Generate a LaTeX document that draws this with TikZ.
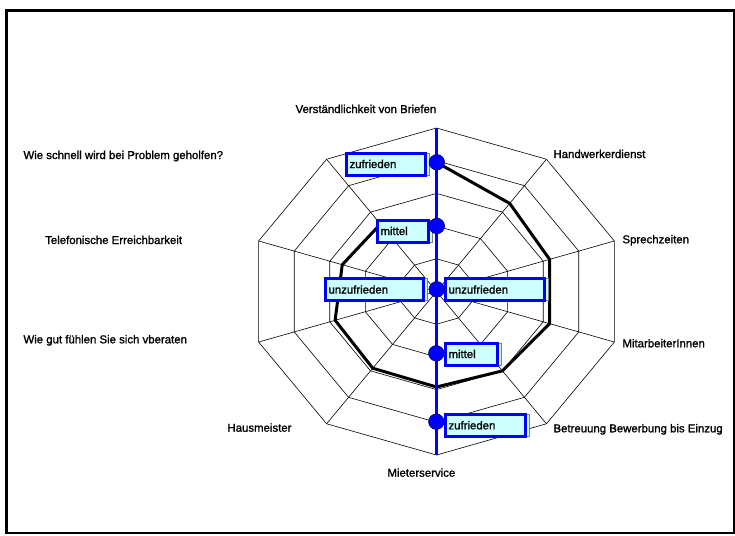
\documentclass[tikz,border=0pt]{standalone}
\usepackage{fontspec}
\setmainfont{Liberation Sans}[BoldFont={Liberation Sans},BoldFeatures={FakeBold=1.4}]
\usepackage{tikz}
\usetikzlibrary{shadows}

\definecolor{boxcyan}{HTML}{CCFFFF}
\definecolor{axisblue}{HTML}{0000FF}
\newcommand{\chartfont}{\fontsize{11.4}{13}\selectfont\bfseries}

\begin{document}
\begin{tikzpicture}[x=1pt,y=-1pt,
  gridline/.style={line width=0.6pt},
  dataline/.style={line width=3pt,line join=round},
  axislabel/.style={anchor=base west,inner sep=0pt,font=\chartfont},
  ratebox/.style={draw=axisblue,line width=3pt,fill=boxcyan,anchor=west,
    inner xsep=3pt,inner ysep=0pt,minimum height=22pt,align=left,font=\chartfont,
    drop shadow={shadow xshift=4pt,shadow yshift=0pt,fill=boxcyan,draw=gray,line width=0.5pt,opacity=1}},
  ratedot/.style={circle,fill=axisblue,draw=black!60!blue,line width=0.6pt,inner sep=0pt,minimum size=15.5pt}]
\useasboundingbox (0,0) rectangle (735,535);
\draw [line width=2.6pt] (6.2,10.3) rectangle (734.3,533);

\coordinate (C) at (436.5,291.5);
\begin{scope}[shift={(C)},x=37.4pt,y=32.7pt]
% grid
\foreach \k in {1,...,5}
  \draw [gridline] (90:\k) -- (54:\k) -- (18:\k) -- (-18:\k) -- (-54:\k) -- (-90:\k)
    -- (-126:\k) -- (-162:\k) -- (162:\k) -- (126:\k) -- cycle;
\foreach \a in {90,54,...,-234}
  \draw [gridline] (0,0) -- (\a:5);
% data
\draw [dataline] (126:2.55) -- (162:2.65) -- (198:2.85) -- (234:2.9) -- (270:2.92)
  -- (306:3.0) -- (342:3.18) -- (18:3.18) -- (54:3.33) -- (90:3.95);
\coordinate (top) at (90:5);
\coordinate (bottom) at (270:5);
\end{scope}

\draw [axisblue,line width=2.8pt] (top) -- (bottom);

\node [ratebox,text width=73pt] (bz1) at (345,164) {zufrieden};
\node [ratebox,text width=45pt] (bm1) at (376,231) {mittel};
\node [ratebox,text width=92pt] (bu1) at (324,289.5) {unzufrieden};
\node [ratebox,text width=93pt] (bu2) at (444,289.5) {unzufrieden};
\node [ratebox,text width=46pt] (bm2) at (444,354) {mittel};
\node [ratebox,text width=74pt] (bz2) at (444,425.3) {zufrieden};

\node [ratedot] (d1) at (436.8,162.3) {};
\node [ratedot] (d2) at (436.8,226) {};
\node [ratedot] (d3) at (436.8,289.3) {};
\node [ratedot] (d4) at (436.3,353.3) {};
\node [ratedot] (d5) at (436.3,421.7) {};

\node [axislabel] (briefe) at (295.4,113) {Verständlichkeit von Briefen};
\node [axislabel] (handw) at (553.3,158) {Handwerkerdienst};
\node [axislabel] (sprech) at (622.3,243.3) {Sprechzeiten};
\node [axislabel] (mitarb) at (622.3,347.3) {MitarbeiterInnen};
\node [axislabel] (betreu) at (553.3,432.3) {Betreuung Bewerbung bis Einzug};
\node [axislabel] (mieter) at (387.3,476.7) {Mieterservice};
\node [axislabel] (hausm) at (227.3,431.7) {Hausmeister};
\node [axislabel] (berat) at (23.3,343.3) {Wie gut fühlen Sie sich vberaten};
\node [axislabel] (telef) at (45,244) {Telefonische Erreichbarkeit};
\node [axislabel] (schnell) at (23.3,159) {Wie schnell wird bei Problem geholfen?};
\end{tikzpicture}
\end{document}
